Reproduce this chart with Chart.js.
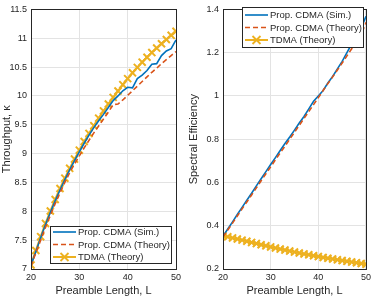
<!DOCTYPE html>
<html><head><meta charset="utf-8">
<script src="https://cdn.jsdelivr.net/npm/chart.js@4.4.0/dist/chart.umd.min.js"></script>
<style>
html,body{margin:0;padding:0;background:#fff;}
#wrap{position:relative;width:374px;height:298px;}
.c{position:absolute;top:0;width:187px;height:298px;}
</style></head><body>
<div id="wrap">
<div class="c" style="left:0"><canvas id="c1"></canvas></div>
<div class="c" style="left:187px"><canvas id="c2"></canvas></div>
</div>
<script>
const L = [20,21,22,23,24,25,26,27,28,29,30,31,32,33,34,35,36,37,38,39,40,41,42,43,44,45,46,47,48,49,50];
const thrSim = [7.07,7.30,7.54,7.77,7.98,8.18,8.37,8.55,8.72,8.88,9.03,9.18,9.32,9.45,9.57,9.68,9.80,9.92,10.00,10.09,10.15,10.14,10.30,10.36,10.44,10.55,10.56,10.70,10.78,10.82,10.97];
const thrTheory = [7.05,7.28,7.50,7.72,7.93,8.13,8.32,8.50,8.67,8.82,8.96,9.10,9.23,9.36,9.48,9.60,9.72,9.85,9.86,9.93,10.01,10.09,10.17,10.25,10.33,10.41,10.48,10.56,10.63,10.70,10.77];
const thrTDMA = [7.07,7.32,7.56,7.79,8.005,8.205,8.395,8.575,8.745,8.905,9.06,9.21,9.35,9.485,9.615,9.74,9.86,9.975,10.085,10.195,10.30,10.40,10.495,10.585,10.67,10.752,10.83,10.905,10.979,11.05,11.12];
const seSim = [0.352,0.385,0.418,0.452,0.485,0.518,0.550,0.584,0.617,0.650,0.683,0.715,0.748,0.780,0.810,0.842,0.875,0.905,0.940,0.975,1.000,1.025,1.060,1.090,1.125,1.160,1.200,1.240,1.275,1.315,1.368];
const seTheory = [0.348,0.380,0.412,0.445,0.478,0.510,0.542,0.575,0.608,0.640,0.672,0.705,0.737,0.768,0.800,0.832,0.864,0.896,0.928,0.960,0.992,1.025,1.057,1.088,1.120,1.152,1.185,1.218,1.250,1.283,1.340];
const seTDMA = [0.3535,0.3486,0.3436,0.3387,0.3335,0.3282,0.3229,0.3176,0.3123,0.3071,0.3020,0.2971,0.2922,0.2874,0.2828,0.2783,0.2739,0.2696,0.2654,0.2614,0.2575,0.2537,0.2499,0.2462,0.2425,0.2389,0.2354,0.2320,0.2287,0.2255,0.2224];
const xTicks = [20,30,40,50];
const thrTicks = [7,7.5,8,8.5,9,9.5,10,10.5,11,11.5];
const seTicks = [0.2,0.4,0.6,0.8,1,1.2,1.4];
const names = ['Prop. CDMA (Sim.)','Prop. CDMA (Theory)','TDMA (Theory)'];
const xTitle = 'Preamble Length, L';

const BLUE='#0072BD', RED='#D95319', YEL='#EDB120', AX='#262626';
const FONT = "'Liberation Sans', Arial, sans-serif";
const pts = a => a.map((v,i)=>({x:L[i],y:v}));
const fmt = v => String(+Number(v).toFixed(2));

function frameAndLegend(lg){
  return {
    id:'fl',
    afterDraw(chart){
      const ctx=chart.ctx, a=chart.chartArea;
      ctx.save();
      ctx.strokeStyle=AX; ctx.lineWidth=1;
      ctx.strokeRect(Math.round(a.left)+0.5, Math.round(a.top)+0.5, Math.round(a.right-a.left), Math.round(a.bottom-a.top));
      ctx.fillStyle='#fff';
      ctx.fillRect(lg.x, lg.y, lg.w, lg.h);
      ctx.strokeStyle=AX;
      ctx.strokeRect(lg.x+0.5, lg.y+0.5, lg.w, lg.h);
      ctx.font='9.5px '+FONT;
      ctx.textBaseline='middle';
      const cols=[BLUE,RED,YEL];
      names.forEach((n,i)=>{
        const y=lg.y+lg.top+i*lg.dy;
        ctx.strokeStyle=cols[i];
        ctx.lineWidth = i===2?2:1.6;
        ctx.setLineDash(i===1?[5,3]:[]);
        ctx.beginPath(); ctx.moveTo(lg.x+3,y); ctx.lineTo(lg.x+26,y); ctx.stroke();
        ctx.setLineDash([]);
        if(i===2){
          const cx=lg.x+14.5, r=4;
          ctx.lineWidth=1.8;
          ctx.beginPath(); ctx.moveTo(cx-r,y-r); ctx.lineTo(cx+r,y+r); ctx.moveTo(cx-r,y+r); ctx.lineTo(cx+r,y-r); ctx.stroke();
        }
        ctx.fillStyle=AX;
        ctx.fillText(n, lg.x+28, y+0.5);
      });
      ctx.restore();
    }
  };
}

function makeChart(id, d1,d2,d3, yTicks, yTitle, yW, padR, lg){
  const ymin=yTicks[0], ymax=yTicks[yTicks.length-1];
  return new Chart(document.getElementById(id), {
    type:'line',
    data:{datasets:[
      {label:names[0],data:pts(d1),borderColor:BLUE,borderWidth:1.6,pointRadius:0,tension:0,order:2},
      {label:names[1],data:pts(d2),borderColor:RED,borderWidth:1.6,borderDash:[5,3],pointRadius:0,tension:0,order:1},
      {label:names[2],data:pts(d3),borderColor:YEL,borderWidth:2,pointStyle:'crossRot',pointRadius:5,pointBorderWidth:2,pointBorderColor:YEL,pointBackgroundColor:YEL,tension:0,order:3}
    ]},
    options:{
      responsive:false, animation:false, devicePixelRatio:1,
      layout:{padding:{left:0,right:padR,top:4,bottom:0}},
      plugins:{legend:{display:false},tooltip:{enabled:false}},
      scales:{
        x:{type:'linear',min:20,max:50,
          afterBuildTicks:s=>{s.ticks=xTicks.map(v=>({value:v}));},
          afterFit:s=>{s.height=29;},
          grid:{color:'#e3e3e3',drawTicks:false},
          border:{display:false},
          ticks:{color:AX,font:{size:9,family:FONT},padding:3,maxRotation:0,callback:fmt},
          title:{display:true,text:xTitle,color:AX,font:{size:11,family:FONT},padding:{top:2,bottom:0}}
        },
        y:{type:'linear',min:ymin,max:ymax,
          afterBuildTicks:s=>{s.ticks=yTicks.map(v=>({value:v}));},
          afterFit:s=>{s.width=yW;},
          grid:{color:'#e3e3e3',drawTicks:false},
          border:{display:false},
          ticks:{color:AX,font:{size:9,family:FONT},padding:4,callback:fmt},
          title:{display:true,text:yTitle,color:AX,font:{size:11,family:FONT},padding:{top:0,bottom:2}}
        }
      }
    },
    plugins:[frameAndLegend(lg)]
  });
}
const c1=document.getElementById('c1'); c1.width=187; c1.height=298;
const c2=document.getElementById('c2'); c2.width=187; c2.height=298;
makeChart('c1', thrSim, thrTheory, thrTDMA, thrTicks, 'Throughput, κ', 31, 11, {x:50,y:226,w:121,h:37,top:6,dy:12.5});
makeChart('c2', seSim, seTheory, seTDMA, seTicks, 'Spectral Efficiency', 36, 5, {x:55,y:7,w:121,h:40,top:8,dy:12.5});
</script>
</body></html>
